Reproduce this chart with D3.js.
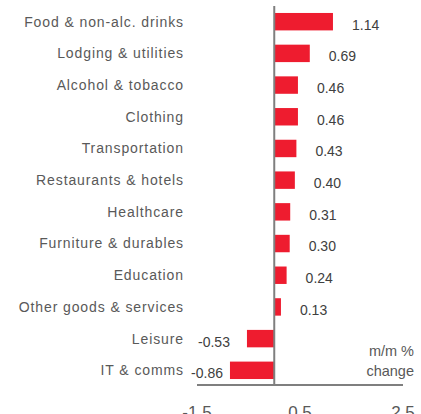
<!DOCTYPE html>
<html>
<head>
<meta charset="utf-8">
<script src="https://cdn.jsdelivr.net/npm/d3@7"></script>
<style>
  html, body { margin: 0; padding: 0; background: #fff; }
  svg { display: block; font-family: "Liberation Sans", Arial, sans-serif; }
</style>
</head>
<body>
<svg id="chart" width="421" height="414"></svg>
<script>
const categories = [
  'Food & non-alc. drinks', 'Lodging & utilities', 'Alcohol & tobacco', 'Clothing',
  'Transportation', 'Restaurants & hotels', 'Healthcare', 'Furniture & durables',
  'Education', 'Other goods & services', 'Leisure', 'IT & comms'
];
const values = [1.14, 0.69, 0.46, 0.46, 0.43, 0.40, 0.31, 0.30, 0.24, 0.13, -0.53, -0.86];
const xTicks = [-1.5, 0.5, 2.5];

const svg = d3.select('#chart');

const x = d3.scaleLinear().domain([-1.5, 2.5]).range([197, 403]);
const y = d3.scaleBand().domain(categories).range([6, 386]).paddingInner(0.45).paddingOuter(0.22);

// hyphen rather than unicode minus, like the original
const fmt = (f) => (d) => d3.format(f)(d).replace('\u2212', '-');

// bars
svg.append('g')
  .selectAll('rect')
  .data(values)
  .join('rect')
  .attr('x', (d) => Math.min(x(0), x(d)))
  .attr('y', (d, i) => y(categories[i]))
  .attr('width', (d) => Math.abs(x(d) - x(0)))
  .attr('height', y.bandwidth())
  .attr('fill', '#ee1c2f');

// zero line
svg.append('line')
  .attr('x1', x(0)).attr('x2', x(0))
  .attr('y1', 6).attr('y2', 386)
  .attr('stroke', '#7f7f7f')
  .attr('stroke-width', 2);

// bottom axis
const axis = svg.append('g').attr('transform', 'translate(0,385)');
axis.append('line')
  .attr('x1', x(-1.5)).attr('x2', x(2.5))
  .attr('stroke', '#7f7f7f')
  .attr('stroke-width', 2);
axis.selectAll('text')
  .data(xTicks)
  .join('text')
  .attr('x', (d) => x(d))
  .attr('y', 33)
  .attr('text-anchor', 'middle')
  .attr('font-size', 17)
  .attr('fill', '#595959')
  .text(fmt('.1f'));

// category labels
svg.append('g')
  .selectAll('text')
  .data(categories)
  .join('text')
  .attr('x', 184)
  .attr('y', (d) => y(d) + y.bandwidth() / 2)
  .attr('dy', '0.35em')
  .attr('text-anchor', 'end')
  .attr('font-size', 14)
  .attr('letter-spacing', 0.9)
  .attr('fill', '#595959')
  .text((d) => d);

// value labels (negative ones pushed right so they clear the category text)
svg.append('g')
  .selectAll('text')
  .data(values)
  .join('text')
  .attr('x', (d) => (d >= 0 ? x(d) + 19 : Math.max(x(d) - 17, 223)))
  .attr('y', (d, i) => y(categories[i]) + y.bandwidth() / 2 + 3)
  .attr('dy', '0.35em')
  .attr('text-anchor', (d) => (d >= 0 ? 'start' : 'end'))
  .attr('font-size', 14)
  .attr('fill', '#404040')
  .text(fmt('.2f'));

// unit note
svg.append('g')
  .selectAll('text')
  .data(['m/m %', 'change'])
  .join('text')
  .attr('x', 414)
  .attr('y', (d, i) => 356 + i * 20)
  .attr('text-anchor', 'end')
  .attr('font-size', 14.5)
  .attr('fill', '#595959')
  .text((d) => d);
</script>
</body>
</html>
